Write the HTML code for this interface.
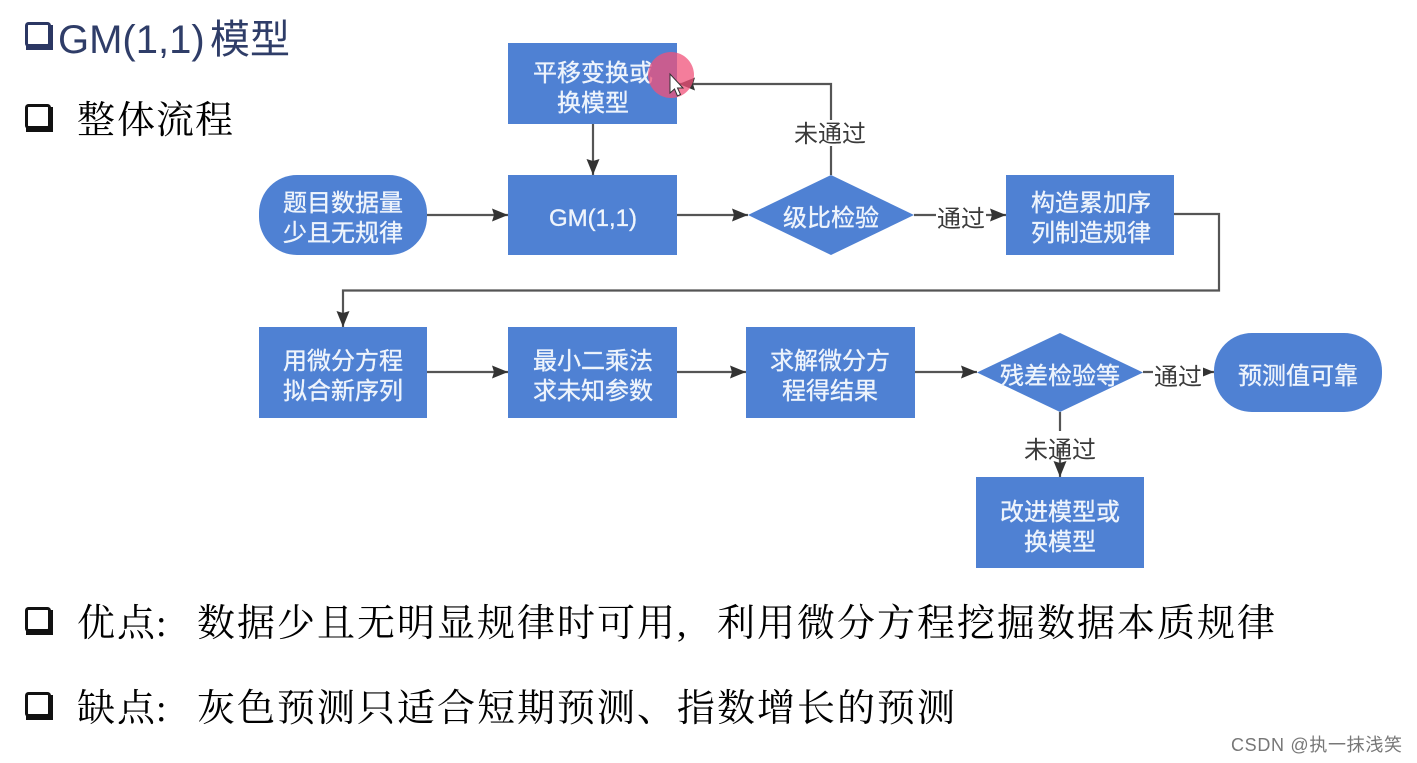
<!DOCTYPE html>
<html><head><meta charset="utf-8"><style>
html,body{margin:0;padding:0;background:#fff;width:1417px;height:763px;overflow:hidden}
svg{display:block;filter:blur(0.35px)}
.n{font-family:"Liberation Sans","Noto Sans CJK SC",sans-serif;font-size:24px;fill:#eef4fc;stroke:#eef4fc;stroke-width:.35;text-anchor:middle}
.l{font-family:"Liberation Sans","Noto Sans CJK SC",sans-serif;font-size:24px;fill:#3a3a3a;text-anchor:middle}
.s{font-family:"Liberation Serif","Noto Serif CJK SC",serif;font-size:38px;fill:#000}
.e{stroke:#555;stroke-width:2.200;fill:none}
</style></head><body>
<svg width="1417" height="763" viewBox="0 0 1417 763" xmlns="http://www.w3.org/2000/svg">
<defs>
<marker id="a" markerUnits="userSpaceOnUse" markerWidth="18" markerHeight="13" refX="16" refY="6.500" orient="auto"><path d="M0 0L16 6.500L0 13L2 6.500Z" fill="#333"/></marker>
<g id="box"><rect x="1.500" y="1.500" width="23" height="22" rx="2" fill="#fff" stroke="#111" stroke-width="3"/><path d="M1 24V28H28V3H25V24Z" fill="#111"/></g>
<g id="box2"><rect x="1.500" y="1.500" width="23" height="22" rx="2" fill="#fff" stroke="#2b3763" stroke-width="3"/><path d="M1 24V28H28V3H25V24Z" fill="#2b3763"/></g>
</defs>

<use href="#box2" x="25" y="22"/>
<text x="58" y="53" style="font-family:'Liberation Sans','Noto Sans CJK SC',sans-serif;font-size:40px;fill:#2f3d68">GM(1,1)<tspan x="210">模型</tspan></text>
<use href="#box" x="25" y="104"/>
<text x="77 117 156 195" y="133" class="s">整体流程</text>
<use href="#box" x="25" y="607"/>
<text x="77 117 156 197 237 277 317 357 397 437 477 517 557 597 637 677 717 757 797 837 877 917 957 997 1037 1077 1117 1157 1197 1237" y="636" class="s">优点:数据少且无明显规律时可用,利用微分方程挖掘数据本质规律</text>
<use href="#box" x="25" y="692"/>
<text x="77 117 156 197 237 277 317 357 397 437 477 517 557 597 637 677 717 757 797 837 877 917" y="721" class="s">缺点:灰色预测只适合短期预测、指数增长的预测</text>

<!-- connectors -->
<path class="e" d="M593 124V175" marker-end="url(#a)"/>
<path class="e" d="M427 215H508" marker-end="url(#a)"/>
<path class="e" d="M677 215H748" marker-end="url(#a)"/>
<path class="e" d="M831 175V84H679" marker-end="url(#a)"/>
<path class="e" d="M914 215H1006" marker-end="url(#a)"/>
<path class="e" d="M1174 214H1219V290.500H343V327" marker-end="url(#a)"/>
<path class="e" d="M427 372H508" marker-end="url(#a)"/>
<path class="e" d="M677 372H746" marker-end="url(#a)"/>
<path class="e" d="M915 372H977" marker-end="url(#a)"/>
<path class="e" d="M1143 372H1214" marker-end="url(#a)"/>
<path class="e" d="M1060 412V477" marker-end="url(#a)"/>

<!-- nodes -->
<g fill="#4f81d3">
<rect x="508" y="43" width="169" height="81"/>
<rect x="508" y="175" width="169" height="80"/>
<rect x="259" y="175" width="168" height="80" rx="38"/>
<path d="M748 215L831 175L914 215L831 255Z"/>
<rect x="1006" y="175" width="168" height="80"/>
<rect x="259" y="327" width="168" height="91"/>
<rect x="508" y="327" width="169" height="91"/>
<rect x="746" y="327" width="169" height="91"/>
<path d="M977 372.500L1060 333L1143 372.500L1060 412Z"/>
<rect x="1214" y="333" width="168" height="79" rx="38"/>
<rect x="976" y="477" width="168" height="91"/>
</g>

<text class="n" x="593" y="81">平移变换或</text>
<text class="n" x="593" y="111">换模型</text>
<text class="n" x="593" y="226">GM(1,1)</text>
<text class="n" x="343" y="211">题目数据量</text>
<text class="n" x="343" y="241">少且无规律</text>
<text class="n" x="831" y="226">级比检验</text>
<text class="n" x="1091" y="211">构造累加序</text>
<text class="n" x="1091" y="241">列制造规律</text>
<text class="n" x="343" y="369">用微分方程</text>
<text class="n" x="343" y="399">拟合新序列</text>
<text class="n" x="593" y="369">最小二乘法</text>
<text class="n" x="593" y="399">求未知参数</text>
<text class="n" x="830" y="369">求解微分方</text>
<text class="n" x="830" y="399">程得结果</text>
<text class="n" x="1060" y="384">残差检验等</text>
<text class="n" x="1298" y="384">预测值可靠</text>
<text class="n" x="1060" y="520">改进模型或</text>
<text class="n" x="1060" y="550">换模型</text>

<!-- labels -->
<rect x="794" y="120" width="72" height="26" fill="#fff"/>
<text class="l" x="830" y="142">未通过</text>
<rect x="936" y="204" width="50" height="26" fill="#fff"/>
<text class="l" x="961" y="227">通过</text>
<rect x="1153" y="362" width="50" height="26" fill="#fff"/>
<text class="l" x="1178" y="385">通过</text>
<rect x="1040" y="431" width="40" height="18" fill="#fff"/>
<text class="l" x="1060" y="458">未通过</text>

<!-- cursor highlight -->
<circle cx="671" cy="75" r="23" fill="#f0527a" fill-opacity=".75"/>
<path d="M670 74V93L674.500 89L677.500 96L680.500 94.500L677.500 88H683Z" fill="#fff" stroke="#333" stroke-width="1"/>

<text x="1231" y="751" textLength="171" style="font-family:'Liberation Sans','Noto Sans CJK SC',sans-serif;font-size:18px;fill:#777">CSDN @执一抹浅笑</text>
</svg>
</body></html>
